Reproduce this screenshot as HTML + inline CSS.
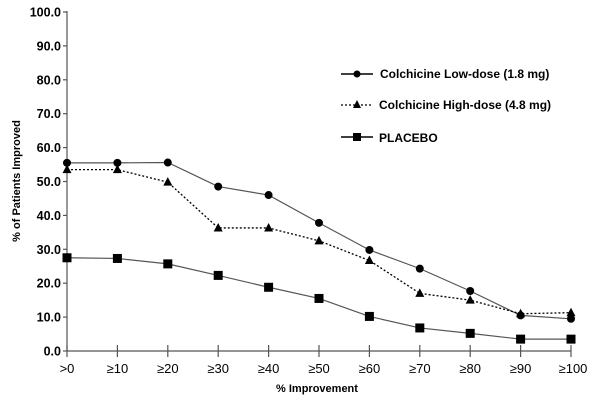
<!DOCTYPE html>
<html><head><style>body{margin:0;background:#fff}svg{display:block}text{font-family:"Liberation Sans",Arial,sans-serif;fill:#000}</style></head>
<body>
<svg width="600" height="411" viewBox="0 0 600 411">
<g stroke="#555" stroke-width="1.2" fill="none">
<line x1="67" y1="11" x2="67" y2="351"/>
<line x1="67" y1="351" x2="571" y2="351"/>
</g>
<g id="yt" font-size="12.5" font-weight="bold" text-anchor="end"></g>
<g id="xt" font-size="13" text-anchor="middle"></g>
<text x="317" y="392" font-size="11" font-weight="bold" text-anchor="middle">% Improvement</text>
<text transform="translate(20,181) rotate(-90)" font-size="11" font-weight="bold" text-anchor="middle">% of Patients Improved</text>
<g id="series"></g>
<g font-size="12" font-weight="bold">
<line x1="341" y1="74" x2="373" y2="74" stroke="#000" stroke-width="1.5"/><circle cx="357" cy="74" r="3.5"/>
<text x="380" y="78">Colchicine Low-dose (1.8 mg)</text>
<line x1="341" y1="105" x2="373" y2="105" stroke="#000" stroke-width="1.3" stroke-dasharray="2,2"/><polygon points="357,100 361,108 353,108"/>
<text x="379" y="109">Colchicine High-dose (4.8 mg)</text>
<line x1="341" y1="137" x2="373" y2="137" stroke="#000" stroke-width="1.5"/><rect x="353" y="133" width="8" height="8"/>
<text x="379" y="142">PLACEBO</text>
</g>
</svg>
<script>
const ns="http://www.w3.org/2000/svg";
function el(p,t,a,txt){const e=document.createElementNS(ns,t);for(const k in a)e.setAttribute(k,a[k]);if(txt)e.textContent=txt;p.appendChild(e);return e;}
const Y=v=>351-v*3.39, X=i=>67+i*50.4;
const yt=document.getElementById('yt'),xt=document.getElementById('xt'),s=document.getElementById('series'),svg=document.querySelector('svg');
for(let v=0;v<=100;v+=10){el(svg,'line',{x1:63,x2:67,y1:Y(v),y2:Y(v),stroke:'#555','stroke-width':1.2});el(yt,'text',{x:61,y:Y(v)+4.5},v.toFixed(1));}
const lab=['>0','≥10','≥20','≥30','≥40','≥50','≥60','≥70','≥80','≥90','≥100'];
lab.forEach((l,i)=>{el(svg,'line',{x1:X(i),x2:X(i),y1:345,y2:357,stroke:'#555','stroke-width':1.2});el(xt,'text',{x:X(i)+(i==10?2:0),y:373},l);});
const low=[55.5,55.5,55.6,48.5,46,37.8,29.8,24.3,17.7,10.5,9.5];
const high=[53.5,53.5,49.8,36.3,36.3,32.5,26.7,17,15,11,11.3];
const pl=[27.5,27.3,25.7,22.3,18.8,15.5,10.2,6.8,5.2,3.5,3.5];
function line(d,dash){el(s,'polyline',{points:d.map((v,i)=>X(i)+','+Y(v)).join(' '),fill:'none',stroke:dash?'#000':'#555','stroke-width':dash?1.3:1.2,'stroke-dasharray':dash?'2,2':'none'});}
line(low);line(high,1);line(pl);
low.forEach((v,i)=>el(s,'circle',{cx:X(i),cy:Y(v),r:4}));
high.forEach((v,i)=>{const x=X(i),y=Y(v);el(s,'polygon',{points:`${x},${y-5} ${x+4.5},${y+3.5} ${x-4.5},${y+3.5}`});});
pl.forEach((v,i)=>el(s,'rect',{x:X(i)-4.5,y:Y(v)-4.5,width:9,height:9}));
</script>
</body></html>
